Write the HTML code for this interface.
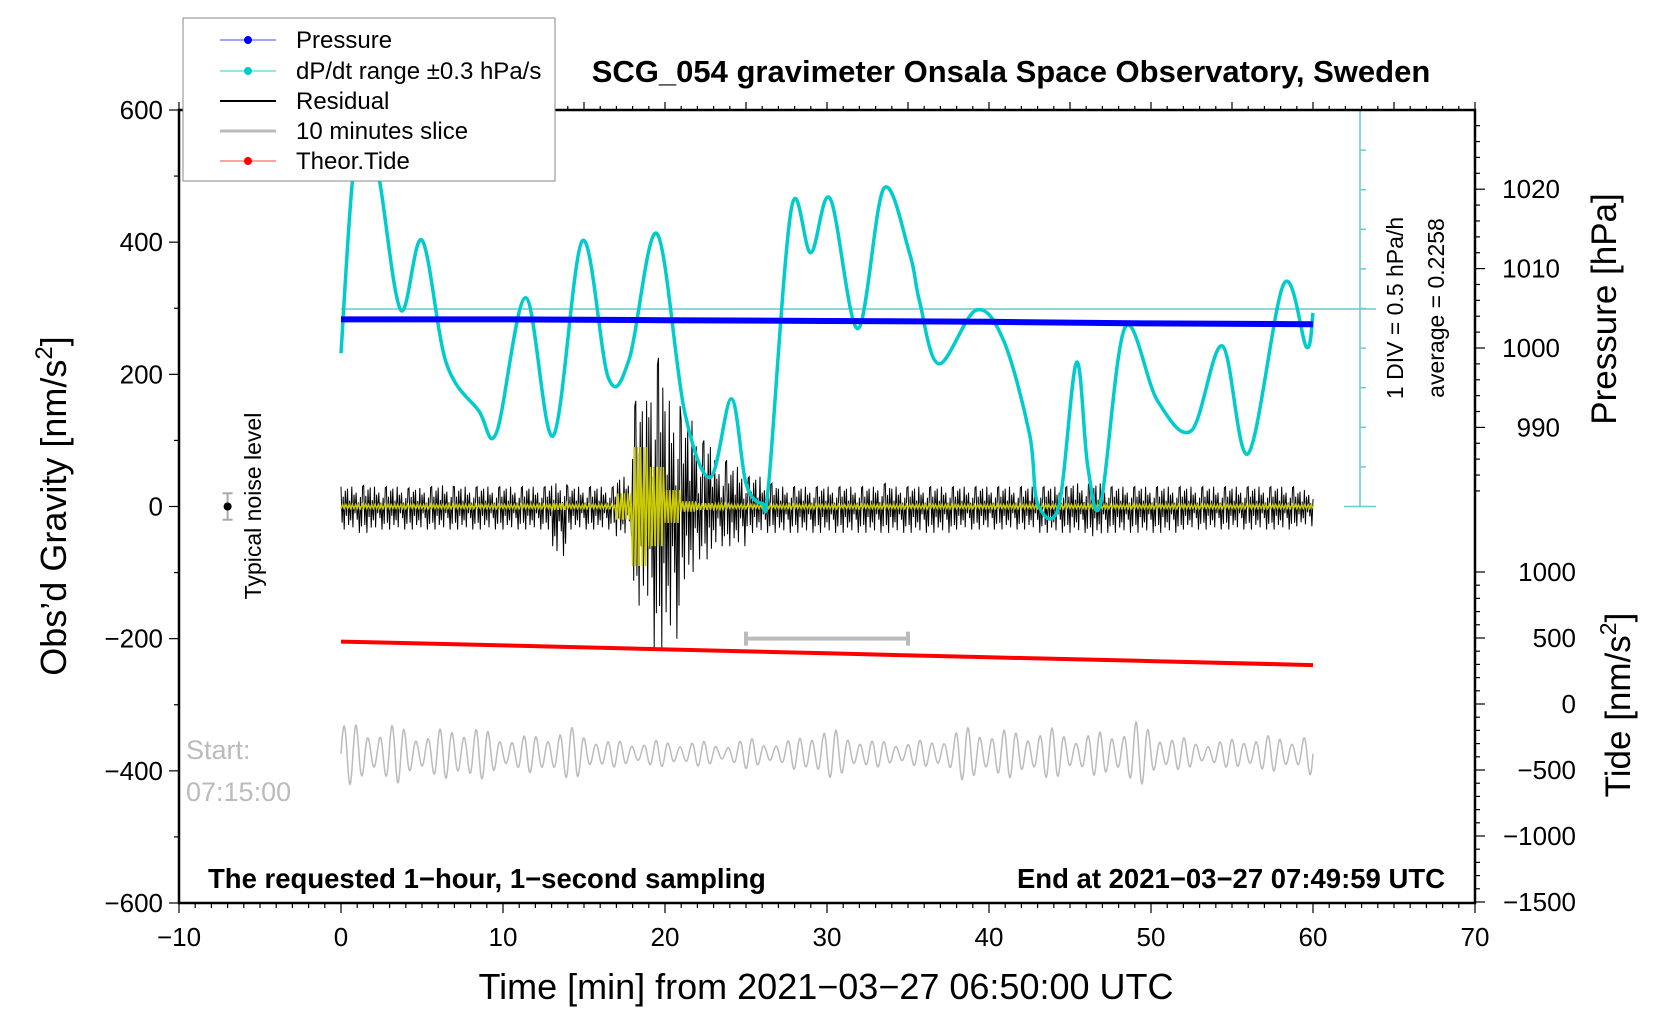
<!DOCTYPE html>
<html><head><meta charset="utf-8">
<style>
html,body{margin:0;padding:0;background:#fff;}
svg{display:block;font-family:"Liberation Sans",sans-serif;}
</style></head>
<body>
<svg id="chart" width="1676" height="1020" viewBox="0 0 1676 1020" xmlns="http://www.w3.org/2000/svg">
<g id="marks"></g>
<g id="axes"></g>
<text x="1011" y="82" font-size="31" font-weight="bold" text-anchor="middle">SCG_054 gravimeter Onsala Space Observatory, Sweden</text>
<text x="826" y="999" font-size="36" text-anchor="middle">Time [min] from 2021−03−27 06:50:00 UTC</text>
<text transform="translate(66,506) rotate(-90)" font-size="36" text-anchor="middle">Obs’d Gravity [nm/s<tspan font-size="24" dy="-14">2</tspan><tspan dy="14">]</tspan></text>
<text transform="translate(1616,309) rotate(-90)" font-size="35" text-anchor="middle">Pressure [hPa]</text>
<text transform="translate(1630,705) rotate(-90)" font-size="35" text-anchor="middle">Tide [nm/s<tspan font-size="23" dy="-14">2</tspan><tspan dy="14">]</tspan></text>
<text transform="translate(1403,308) rotate(-90)" font-size="23" text-anchor="middle">1 DIV = 0.5 hPa/h</text>
<text transform="translate(1444,308) rotate(-90)" font-size="23" text-anchor="middle">average = 0.2258</text>
<text transform="translate(261,506) rotate(-90)" font-size="23" text-anchor="middle">Typical noise level</text>
<text x="186" y="759" font-size="27" fill="#bbb">Start:</text>
<text x="186" y="801" font-size="27" fill="#bbb">07:15:00</text>
<text x="208" y="888" font-size="27.5" font-weight="bold">The requested 1−hour, 1−second sampling</text>
<text x="1445" y="888" font-size="27.5" font-weight="bold" text-anchor="end">End at 2021−03−27 07:49:59 UTC</text>
<g>
<rect x="183" y="18" width="372" height="163" fill="#fff" stroke="#888" stroke-width="1"/>
<line x1="220" y1="40" x2="276" y2="40" stroke="#44f" stroke-width="1"/><circle cx="248" cy="40" r="4" fill="#00f"/>
<text x="296" y="48" font-size="24">Pressure</text>
<line x1="220" y1="71" x2="276" y2="71" stroke="#3cc" stroke-width="1"/><circle cx="248" cy="71" r="4" fill="#0cc"/>
<text x="296" y="79" font-size="24">dP/dt range ±0.3 hPa/s</text>
<line x1="220" y1="101" x2="276" y2="101" stroke="#000" stroke-width="2"/>
<text x="296" y="109" font-size="24">Residual</text>
<line x1="220" y1="131" x2="276" y2="131" stroke="#bbb" stroke-width="3"/>
<text x="296" y="139" font-size="24">10 minutes slice</text>
<line x1="220" y1="161" x2="276" y2="161" stroke="#f44" stroke-width="1"/><circle cx="248" cy="161" r="4" fill="#f00"/>
<text x="296" y="169" font-size="24">Theor.Tide</text>
</g>
</svg>
<script>
// ---- data ----
const xTicks = [-10,0,10,20,30,40,50,60,70];
const yTicks = [-600,-400,-200,0,200,400,600];
const pTicks = [990,1000,1010,1020];
const tideTicks = [-1500,-1000,-500,0,500,1000];
const cyanT = [0,0.7,1.5,2.4,3.7,5.0,6.5,8.5,9.6,11.4,13.1,14.9,16.5,17.8,19.5,21.2,22.8,24.1,25.0,26.0,26.4,27.8,29.0,30.2,31.9,33.5,35.1,35.7,36.9,39.2,40.9,42.5,43.0,44.3,45.4,46.1,46.9,48.4,50.4,52.5,54.4,56.0,58.2,59.6,60.0];
const cyanV = [232,490,600,490,297,403,217,145,112,316,107,402,195,224,413,145,44,163,35,5,35,451,384,466,269,481,383,312,216,297,251,110,5,0,218,60,5,271,160,115,243,80,337,241,293];
const pressT = [0,10,20,30,40,50,60];
const pressV = [1003.6,1003.6,1003.5,1003.4,1003.3,1003.1,1003.0];
const tideT = [0,10,20,30,40,50,60];
const tideV = [473,444,414,384,354,325,295];
const resUp = [30,32,30,30,28,30,32,30,30,30,30,30,30,35,30,30,30,45,160,225,160,130,100,70,60,45,35,30,30,30,30,30,30,35,30,30,30,30,30,30,30,30,30,30,30,35,35,30,30,30,30,30,30,30,30,30,30,30,30,25,25];
const resDn = [-35,-40,-35,-35,-35,-35,-35,-35,-35,-35,-35,-35,-35,-75,-35,-35,-35,-45,-150,-215,-200,-110,-80,-60,-60,-40,-40,-40,-40,-40,-40,-40,-40,-40,-40,-40,-40,-40,-35,-35,-35,-35,-35,-40,-40,-40,-45,-40,-40,-40,-40,-40,-35,-35,-35,-35,-35,-35,-35,-30,-30];
const yelAmp = [3,3,3,3,3,3,3,3,3,3,3,3,3,5,3,3,3,20,90,60,25,8,5,4,3,3,3,3,3,3,3,3,3,3,3,3,3,3,3,3,3,3,3,3,3,3,3,3,3,3,3,3,3,3,3,3,3,3,3,3,3];
const sliceAmp = [50,40,45,30,50,35,25,35,40,20,20,20,20,15,25,15,40,35,20,20,20,40,40,35,40,30,35,50,30,20,20,30,25,35];
const sliceMid = -374;
const sliceBar = [25,35];
const sliceBarV = -200;
const noisePt = [-7,0,20];

// ---- axes functions ----
const X0=179, X1=1475, Y0=110, Y1=903;
const sx = t => X0 + (t+10)/80*(X1-X0);
const sy = v => Y0 + (600-v)/1200*(Y1-Y0);
const sp = p => 348 - (p-1000)*7.94;
const st = v => 704 - v*0.132;
const NS='http://www.w3.org/2000/svg';
const marks=document.getElementById('marks'), axes=document.getElementById('axes');
function el(tag,attrs,parent){const e=document.createElementNS(NS,tag);for(const k in attrs)e.setAttribute(k,attrs[k]);parent.appendChild(e);return e;}
function interp(ts,vs,t){for(let i=1;i<ts.length;i++){if(t<=ts[i]){const f=(t-ts[i-1])/(ts[i]-ts[i-1]);return vs[i-1]+f*(vs[i]-vs[i-1]);}}return vs[vs.length-1];}
function smoothPath(px,py){let d='M'+px[0].toFixed(1)+','+py[0].toFixed(1);
 for(let i=0;i<px.length-1;i++){const i0=Math.max(0,i-1),i3=Math.min(px.length-1,i+2);
  const c1x=px[i]+(px[i+1]-px[i0])/6,c1y=py[i]+(py[i+1]-py[i0])/6;
  const c2x=px[i+1]-(px[i3]-px[i])/6,c2y=py[i+1]-(py[i3]-py[i])/6;
  d+='C'+c1x.toFixed(1)+','+c1y.toFixed(1)+' '+c2x.toFixed(1)+','+c2y.toFixed(1)+' '+px[i+1].toFixed(1)+','+py[i+1].toFixed(1);}
 return d;}

const defs=el('defs',{},marks);
const cp=el('clipPath',{id:'plotclip'},defs);
el('rect',{x:X0,y:Y0,width:X1-X0,height:Y1-Y0},cp);
const g=el('g',{'clip-path':'url(#plotclip)'},marks);

// dP/dt reference axis
const dref=el('g',{stroke:'#6cc','stroke-width':1.5},g);


el('line',{x1:sx(0),y1:309,x2:1376,y2:309},dref);
el('line',{x1:1360,y1:Y0,x2:1360,y2:sy(0)},dref);
el('line',{x1:1344,y1:sy(0),x2:1376,y2:sy(0)},dref);
for(let k=1;k<10;k++){el('line',{x1:1360,y1:sy(0)-k*39.6,x2:1366,y2:sy(0)-k*39.6},dref);}

// residual (black)
let d='';const pat=[1,-0.7,0.5,-1,0.8,-0.4,0.9,-0.8,0.3,-0.6,1,-0.9,0.6,-0.3,0.7,-0.5,0.2,-1,0.45,-0.75,0.95];
for(let i=0;i<=900;i++){const t=i/15;const m=Math.min(60,Math.floor(t));const f=pat[i%pat.length];
 const v=f>0?resUp[m]*f:-resDn[m]*f;d+=(i?'L':'M')+sx(t).toFixed(1)+','+sy(v).toFixed(1);}
const res=el('path',{d:d,fill:'none',stroke:'#000','stroke-width':1},g);



// yellow filtered
d='';
for(let i=0;i<=600;i++){const t=i/10;const m=Math.min(60,Math.floor(t));const s=(i%2?1:-1);
 d+=(i?'L':'M')+sx(t).toFixed(1)+','+sy(s*yelAmp[m]).toFixed(1);}
const yel=el('path',{d:d,fill:'none',stroke:'#cc0','stroke-width':1.5},g);



// cyan dP/dt
const cy=el('path',{d:smoothPath(cyanT.map(sx),cyanV.map(sy)),fill:'none',stroke:'#0cc','stroke-width':3.5,'stroke-linejoin':'round'},g);



// pressure
d='';
for(let i=0;i<pressT.length;i++){d+=(i?'L':'M')+sx(pressT[i]).toFixed(1)+','+sp(pressV[i]).toFixed(1);}
const pr=el('path',{d:d,fill:'none',stroke:'#00f','stroke-width':6},g);



// tide
d='';
for(let i=0;i<tideT.length;i++){d+=(i?'L':'M')+sx(tideT[i]).toFixed(1)+','+st(tideV[i]).toFixed(1);}
const td=el('path',{d:d,fill:'none',stroke:'#f00','stroke-width':4},g);



// slice bar
const sb=el('g',{stroke:'#bbb','stroke-width':4},g);


el('line',{x1:sx(sliceBar[0]),y1:sy(sliceBarV),x2:sx(sliceBar[1]),y2:sy(sliceBarV)},sb);
el('line',{x1:sx(sliceBar[0]),y1:sy(sliceBarV)-7,x2:sx(sliceBar[0]),y2:sy(sliceBarV)+7},sb);
el('line',{x1:sx(sliceBar[1]),y1:sy(sliceBarV)-7,x2:sx(sliceBar[1]),y2:sy(sliceBarV)+7},sb);

// 10-min slice (grey)
d='';
const sliceTs=sliceAmp.map((_,k)=>k*60/(sliceAmp.length-1));
for(let i=0;i<=2400;i++){const t=i/40;const a=interp(sliceTs,sliceAmp,t);
 const v=sliceMid+a*Math.sin(t*2*Math.PI*1.35)*(0.75+0.25*Math.sin(t*2*Math.PI*0.37));d+=(i?'L':'M')+sx(t).toFixed(1)+','+sy(v).toFixed(1);}
const sl=el('path',{d:d,fill:'none',stroke:'#bbb','stroke-width':1.5},g);



// noise indicator
const ni=el('g',{},marks);


el('line',{x1:sx(noisePt[0]),y1:sy(noisePt[2]),x2:sx(noisePt[0]),y2:sy(-noisePt[2]),stroke:'#aaa','stroke-width':2},ni);
el('line',{x1:sx(noisePt[0])-5,y1:sy(noisePt[2]),x2:sx(noisePt[0])+5,y2:sy(noisePt[2]),stroke:'#aaa','stroke-width':2},ni);
el('line',{x1:sx(noisePt[0])-5,y1:sy(-noisePt[2]),x2:sx(noisePt[0])+5,y2:sy(-noisePt[2]),stroke:'#aaa','stroke-width':2},ni);
el('circle',{cx:sx(noisePt[0]),cy:sy(noisePt[1]),r:4,fill:'#000'},ni);

// frame
const fr=el('g',{stroke:'#000','stroke-width':2.5,fill:'none'},axes);


el('rect',{x:X0,y:Y0,width:X1-X0,height:Y1-Y0},fr);
const tk=el('g',{stroke:'#000','stroke-width':1.2},axes);
for(let t=-10;t<=70;t++){const big=t%10===0;
 el('line',{x1:sx(t),y1:Y1,x2:sx(t),y2:Y1+(big?10:5)},tk);
 el('line',{x1:sx(t),y1:Y0,x2:sx(t),y2:Y0-(t%5===0?8:4)},tk);}
for(let v=-600;v<=600;v+=100){el('line',{x1:X0,y1:sy(v),x2:X0-(v%200===0?10:5),y2:sy(v)},tk);}
for(let p=976;p<=1034;p+=2){const y=sp(p);if(y<Y0||y>sy(0))continue;el('line',{x1:X1,y1:y,x2:X1+(p%10===0?10:5),y2:y},tk);}
for(let v=-1500;v<=1000;v+=100){el('line',{x1:X1,y1:st(v),x2:X1+(v%500===0?10:5),y2:st(v)},tk);}
for(const t of xTicks){const e=el('text',{x:sx(t),y:946,'font-size':26,'text-anchor':'middle'},axes);e.textContent=String(t).replace('-','−');
 
 }
for(const v of yTicks){const e=el('text',{x:X0-16,y:sy(v)+9,'font-size':26,'text-anchor':'end'},axes);e.textContent=String(v).replace('-','−');
 
 }
for(const p of pTicks){const e=el('text',{x:1560,y:sp(p)+9,'font-size':26,'text-anchor':'end'},axes);e.textContent=String(p);
 
 }
for(const v of tideTicks){const e=el('text',{x:1576,y:st(v)+9,'font-size':26,'text-anchor':'end'},axes);e.textContent=String(v).replace('-','−');
 
 }
</script>
</body></html>
